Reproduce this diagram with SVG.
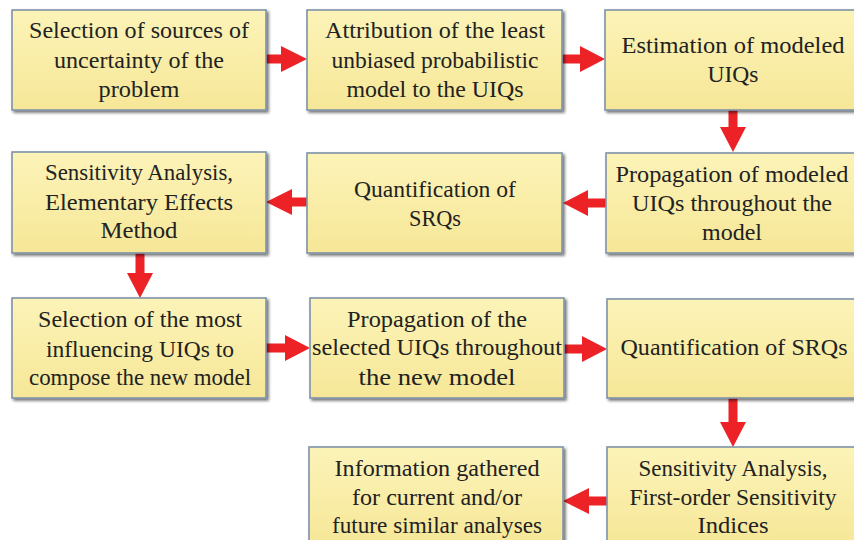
<svg xmlns="http://www.w3.org/2000/svg" width="854" height="540" viewBox="0 0 854 540">
<defs>
<linearGradient id="fillg" x1="0" y1="0" x2="0" y2="1">
<stop offset="0" stop-color="#fcf3b8"/>
<stop offset="1" stop-color="#f6e797"/>
</linearGradient>
<filter id="sh" x="-5%" y="-5%" width="115%" height="120%">
<feGaussianBlur in="SourceAlpha" stdDeviation="1.5"/>
<feOffset dx="2" dy="2" result="b"/>
<feComponentTransfer><feFuncA type="linear" slope="0.55"/></feComponentTransfer>
<feMerge><feMergeNode/><feMergeNode in="SourceGraphic"/></feMerge>
</filter>
</defs>
<style>
.box{fill:url(#fillg);stroke:#7f92aa;stroke-width:1.6;filter:url(#sh)}
.t{font-family:"Liberation Serif","Times New Roman",serif;font-size:23px;fill:#222;text-anchor:middle}
.arr{fill:#ec2227}
</style>
<rect width="854" height="540" fill="#ffffff"/>
<g id="connectors">
<polygon class="arr" points="266,54.5 281,54.5 281,46 307,59 281,72 281,63.5 266,63.5"/>
<polygon class="arr" points="562,54.5 580,54.5 580,46 605,59 580,72 580,63.5 562,63.5"/>
<polygon class="arr" points="728.5,110 728.5,127 720,127 733,152 746,127 737.5,127 737.5,110"/>
<polygon class="arr" points="606,198.5 588,198.5 588,190 563,203 588,216 588,207.5 606,207.5"/>
<polygon class="arr" points="307,197.5 292,197.5 292,189 266,202 292,215 292,206.5 307,206.5"/>
<polygon class="arr" points="135.5,253 135.5,273 127,273 140,298 153,273 144.5,273 144.5,253"/>
<polygon class="arr" points="266,343.5 285,343.5 285,335 310,348 285,361 285,352.5 266,352.5"/>
<polygon class="arr" points="564,344.5 582,344.5 582,336 607,349 582,362 582,353.5 564,353.5"/>
<polygon class="arr" points="728.5,398 728.5,422 720,422 733,447 746,422 737.5,422 737.5,398"/>
<polygon class="arr" points="607,496.5 589,496.5 589,488 563,501 589,514 589,505.5 607,505.5"/>
</g>
<g id="n1">
<rect class="box" x="12" y="10" width="254" height="100"/>
<text class="t" x="139" y="38" textLength="220" lengthAdjust="spacingAndGlyphs">Selection of sources of</text>
<text class="t" x="139" y="68" textLength="170" lengthAdjust="spacingAndGlyphs">uncertainty of  the</text>
<text class="t" x="139" y="97" textLength="81" lengthAdjust="spacingAndGlyphs">problem</text>
</g>
<g id="n2">
<rect class="box" x="307" y="10" width="255" height="100"/>
<text class="t" x="435" y="38" textLength="220" lengthAdjust="spacingAndGlyphs">Attribution of the least</text>
<text class="t" x="435" y="68" textLength="207" lengthAdjust="spacingAndGlyphs">unbiased probabilistic</text>
<text class="t" x="435" y="97" textLength="177" lengthAdjust="spacingAndGlyphs">model to the UIQs</text>
</g>
<g id="n3">
<rect class="box" x="605" y="10" width="257" height="100"/>
<text class="t" x="733" y="53" textLength="223" lengthAdjust="spacingAndGlyphs">Estimation of modeled</text>
<text class="t" x="733" y="82" textLength="51" lengthAdjust="spacingAndGlyphs">UIQs</text>
</g>
<g id="n4">
<rect class="box" x="606" y="153" width="256" height="100"/>
<text class="t" x="732" y="182" textLength="233" lengthAdjust="spacingAndGlyphs">Propagation of modeled</text>
<text class="t" x="732" y="211" textLength="200" lengthAdjust="spacingAndGlyphs">UIQs throughout the</text>
<text class="t" x="732" y="240" textLength="60" lengthAdjust="spacingAndGlyphs">model</text>
</g>
<g id="n5">
<rect class="box" x="307" y="153" width="255" height="100"/>
<text class="t" x="435" y="197" textLength="162" lengthAdjust="spacingAndGlyphs">Quantification of</text>
<text class="t" x="435" y="226" textLength="52" lengthAdjust="spacingAndGlyphs">SRQs</text>
</g>
<g id="n6">
<rect class="box" x="12" y="152" width="254" height="101"/>
<text class="t" x="139" y="180" textLength="188" lengthAdjust="spacingAndGlyphs">Sensitivity Analysis,</text>
<text class="t" x="139" y="210" textLength="188" lengthAdjust="spacingAndGlyphs">Elementary Effects</text>
<text class="t" x="139" y="238" textLength="77" lengthAdjust="spacingAndGlyphs">Method</text>
</g>
<g id="n7">
<rect class="box" x="12" y="298" width="254" height="100"/>
<text class="t" x="140" y="327" textLength="204" lengthAdjust="spacingAndGlyphs">Selection of the most</text>
<text class="t" x="140" y="357" textLength="188" lengthAdjust="spacingAndGlyphs">influencing UIQs to</text>
<text class="t" x="140" y="385" textLength="222" lengthAdjust="spacingAndGlyphs">compose the new model</text>
</g>
<g id="n8">
<rect class="box" x="310" y="298" width="254" height="100"/>
<text class="t" x="437" y="327" textLength="180" lengthAdjust="spacingAndGlyphs">Propagation of the</text>
<text class="t" x="437" y="355" textLength="250" lengthAdjust="spacingAndGlyphs">selected UIQs throughout</text>
<text class="t" x="437" y="385" textLength="157" lengthAdjust="spacingAndGlyphs">the new model</text>
</g>
<g id="n9">
<rect class="box" x="607" y="299" width="255" height="99"/>
<text class="t" x="734" y="355" textLength="227" lengthAdjust="spacingAndGlyphs">Quantification of SRQs</text>
</g>
<g id="n10">
<rect class="box" x="607" y="447" width="255" height="100"/>
<text class="t" x="733" y="476" textLength="189" lengthAdjust="spacingAndGlyphs">Sensitivity Analysis,</text>
<text class="t" x="733" y="505" textLength="207" lengthAdjust="spacingAndGlyphs">First-order Sensitivity</text>
<text class="t" x="733" y="533" textLength="71" lengthAdjust="spacingAndGlyphs">Indices</text>
</g>
<g id="n11">
<rect class="box" x="309" y="447" width="254" height="100"/>
<text class="t" x="437" y="476" textLength="205" lengthAdjust="spacingAndGlyphs">Information gathered</text>
<text class="t" x="437" y="505" textLength="170" lengthAdjust="spacingAndGlyphs">for current and/or</text>
<text class="t" x="437" y="533" textLength="210" lengthAdjust="spacingAndGlyphs">future similar analyses</text>
</g>
</svg>
